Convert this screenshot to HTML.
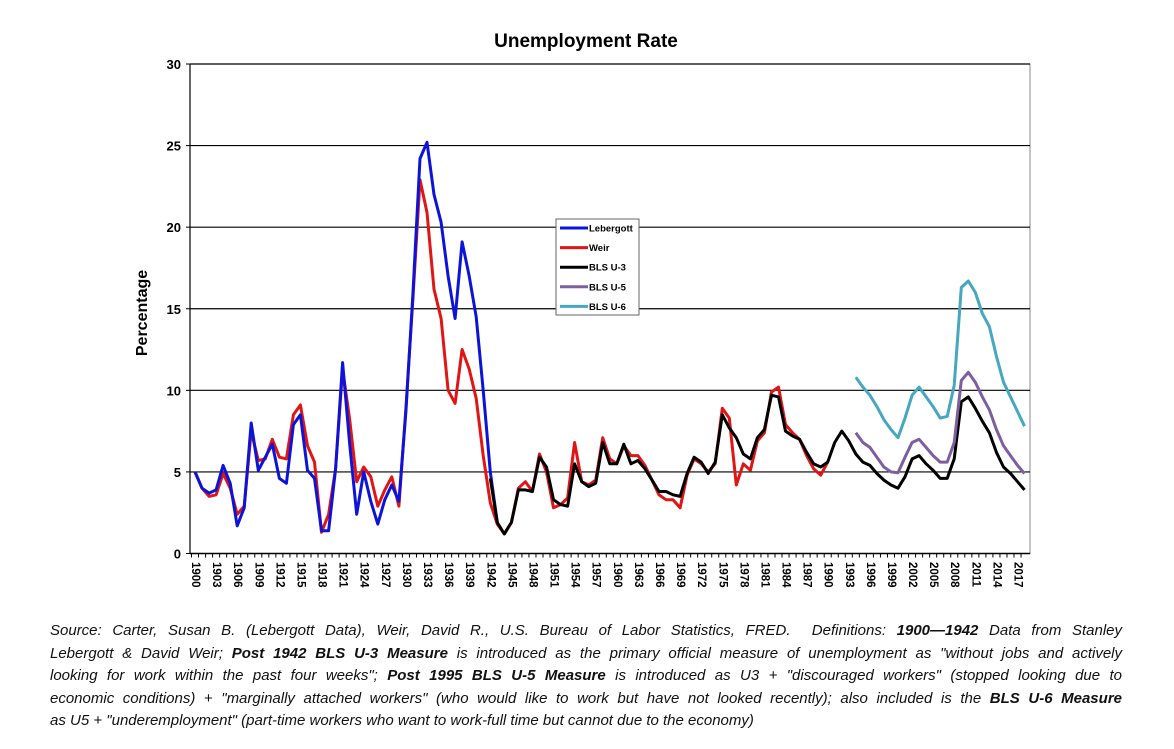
<!DOCTYPE html>
<html><head><meta charset="utf-8">
<style>
body{margin:0;background:#fff;width:1174px;height:749px;overflow:hidden;font-family:"Liberation Sans",sans-serif;}
#cap{position:absolute;left:50px;top:620px;width:1072px;font-style:italic;font-size:15px;line-height:22.5px;color:#111;}
#cap div{text-align:justify;text-align-last:justify;white-space:nowrap;}
#cap div.last{text-align-last:left;}
</style></head><body>
<svg id="chart" width="1174" height="610" style="position:absolute;left:0;top:0" xmlns="http://www.w3.org/2000/svg"></svg>
<div id="cap">
<div>Source: Carter, Susan B. (Lebergott Data), Weir, David R., U.S. Bureau of Labor Statistics, FRED.&nbsp; Definitions: <b>1900—1942</b> Data from Stanley</div>
<div>Lebergott &amp; David Weir; <b>Post 1942 BLS U-3 Measure</b> is introduced as the primary official measure of unemployment as "without jobs and actively</div>
<div>looking for work within the past four weeks"; <b>Post 1995 BLS U-5 Measure</b> is introduced as U3 + "discouraged workers" (stopped looking due to</div>
<div>economic conditions) + "marginally attached workers" (who would like to work but have not looked recently); also included is the <b>BLS U-6 Measure</b></div>
<div class="last">as U5 + "underemployment" (part-time workers who want to work-full time but cannot due to the economy)</div>
</div>
<script>
const lebergottStart = 1900;
const lebergott = [5.0,4.0,3.7,3.9,5.4,4.3,1.7,2.8,8.0,5.1,5.9,6.7,4.6,4.3,7.9,8.5,5.1,4.6,1.4,1.4,5.2,11.7,6.7,2.4,5.0,3.2,1.8,3.3,4.2,3.2,8.7,15.9,24.2,25.2,22.0,20.3,17.0,14.4,19.1,17.0,14.5,10.0,5.0,1.9];
const weirStart = 1900;
const weir = [5.0,4.0,3.5,3.6,4.9,4.0,2.4,2.9,7.5,5.7,5.8,7.0,5.9,5.8,8.5,9.1,6.6,5.6,1.3,2.4,5.2,11.3,8.2,4.4,5.3,4.7,2.9,3.9,4.7,2.9,8.9,15.6,22.9,20.9,16.2,14.4,10.0,9.2,12.5,11.3,9.5,6.0,3.1,1.8,
 1.2,1.9,4.0,4.4,3.8,6.1,5.0,2.8,3.0,3.4,6.8,4.4,4.2,4.5,7.1,5.8,5.5,6.6,6.0,6.0,5.4,4.5,3.6,3.3,3.3,2.8,4.8,5.8,5.5,5.0,5.5,8.9,8.3,4.2,5.5,5.1,6.9,7.4,9.9,10.2,7.9,7.4,7.0,6.0,5.2,4.8,5.6];
const u3Start = 1942;
const u3 = [4.6,1.9,1.2,1.9,3.9,3.9,3.8,5.9,5.3,3.3,3.0,2.9,5.5,4.4,4.1,4.3,6.8,5.5,5.5,6.7,5.5,5.7,5.2,4.5,3.8,3.8,3.6,3.5,4.9,5.9,5.6,4.9,5.6,8.5,7.7,7.1,6.1,5.8,7.1,7.6,9.7,9.6,7.5,7.2,7.0,6.2,5.5,5.3,5.6,6.8,7.5,6.9,6.1,5.6,5.4,4.9,4.5,4.2,4.0,4.7,5.8,6.0,5.5,5.1,4.6,4.6,5.8,9.3,9.6,8.9,8.1,7.4,6.2,5.3,4.9,4.4,3.9];
const u5Start = 1994;
const u5 = [7.4,6.8,6.5,5.9,5.3,5.0,4.95,5.9,6.8,7.0,6.5,6.0,5.6,5.6,6.8,10.6,11.1,10.5,9.6,8.8,7.6,6.6,6.0,5.4,4.9];
const u6Start = 1994;
const u6 = [10.8,10.2,9.7,9.0,8.2,7.6,7.1,8.3,9.7,10.2,9.6,9.0,8.3,8.4,10.3,16.3,16.7,16.0,14.7,13.9,12.1,10.5,9.6,8.7,7.8];
const yTicks = [0,5,10,15,20,25,30];
const seriesNames = ["Lebergott","Weir","BLS U-3","BLS U-5","BLS U-6"];
const seriesColors = ["#0b14d8","#e01515","#000000","#7d5fa0","#45a7c0"];

const svg = document.getElementById('chart');
const NS = "http://www.w3.org/2000/svg";
const X0=190, X1=1030, Y0=553.5, YT=64;
const x = yr => 195 + (yr-1900)*7.03;
const y = v => Y0 - v*(Y0-YT)/30;
function mk(tag, attrs, parent){const e=document.createElementNS(NS,tag);for(const k in attrs)e.setAttribute(k,attrs[k]);(parent||svg).appendChild(e);return e;}

let t = mk('text',{x:586,y:47,'text-anchor':'middle','font-size':19,'font-weight':'bold','font-family':'Liberation Sans, sans-serif'});
t.textContent='Unemployment Rate';



t = mk('text',{x:0,y:0,transform:'translate(147,313) rotate(-90)','text-anchor':'middle','font-size':16,'font-weight':'bold','font-family':'Liberation Sans, sans-serif'});
t.textContent='Percentage';



let fr = mk('rect',{x:X0,y:YT,width:X1-X0,height:Y0-YT,fill:'none',stroke:'#888','stroke-width':1});



yTicks.forEach(v=>{
  if(v>0){const g=mk('line',{x1:X0,x2:X1,y1:y(v),y2:y(v),stroke:'#000','stroke-width':1.2});
  
  }
  mk('line',{x1:X0-4,x2:X0,y1:y(v),y2:y(v),stroke:'#000'});
  const l=mk('text',{x:X0-9,y:y(v)+5,'text-anchor':'end','font-size':13,'font-weight':'bold','font-family':'Liberation Sans, sans-serif'});
  l.textContent=v;
  
  
});
mk('line',{x1:X0,x2:X0,y1:YT,y2:Y0,stroke:'#000','stroke-width':1.2});
mk('line',{x1:X0,x2:X1,y1:Y0,y2:Y0,stroke:'#000','stroke-width':1.5});
for(let yr=1900; yr<=2018; yr++){
  mk('line',{x1:x(yr)-3.5,x2:x(yr)-3.5,y1:Y0,y2:Y0+4,stroke:'#000','stroke-width':1});
  if((yr-1900)%3===0){
    const l=mk('text',{x:0,y:0,transform:`translate(${x(yr)-3},562) rotate(90)`,'font-size':11.5,'font-weight':'bold','font-family':'Liberation Sans, sans-serif'});
    l.textContent=yr;
    
    
  }
}
function series(vals,start,color,name){
  const p=vals.map((v,i)=>(i?'L':'M')+x(start+i).toFixed(1)+','+y(v).toFixed(1)).join(' ');
  const e=mk('path',{d:p,fill:'none',stroke:color,'stroke-width':3,'stroke-linejoin':'round'});
  
  
}
series(weir,weirStart,seriesColors[1],'weir-line');
series(lebergott,lebergottStart,seriesColors[0],'lebergott-line');
series(u3,u3Start,seriesColors[2],'bls-u3-line');
series(u5,u5Start,seriesColors[3],'bls-u5-line');
series(u6,u6Start,seriesColors[4],'bls-u6-line');

const lg=mk('g',{});


mk('rect',{x:556,y:219,width:83,height:96,fill:'#fff',stroke:'#666'},lg);
seriesNames.forEach((n,i)=>{
  const yy=228+i*19.6;
  const en=mk('g',{},lg);
  
  
  mk('line',{x1:560,x2:588,y1:yy,y2:yy,stroke:seriesColors[i],'stroke-width':3},en);
  const tx=mk('text',{x:589,y:yy+3.5,'font-size':9.5,'font-weight':'bold','font-family':'Liberation Sans, sans-serif'},en);
  tx.textContent=n;
});
</script>
</body></html>
